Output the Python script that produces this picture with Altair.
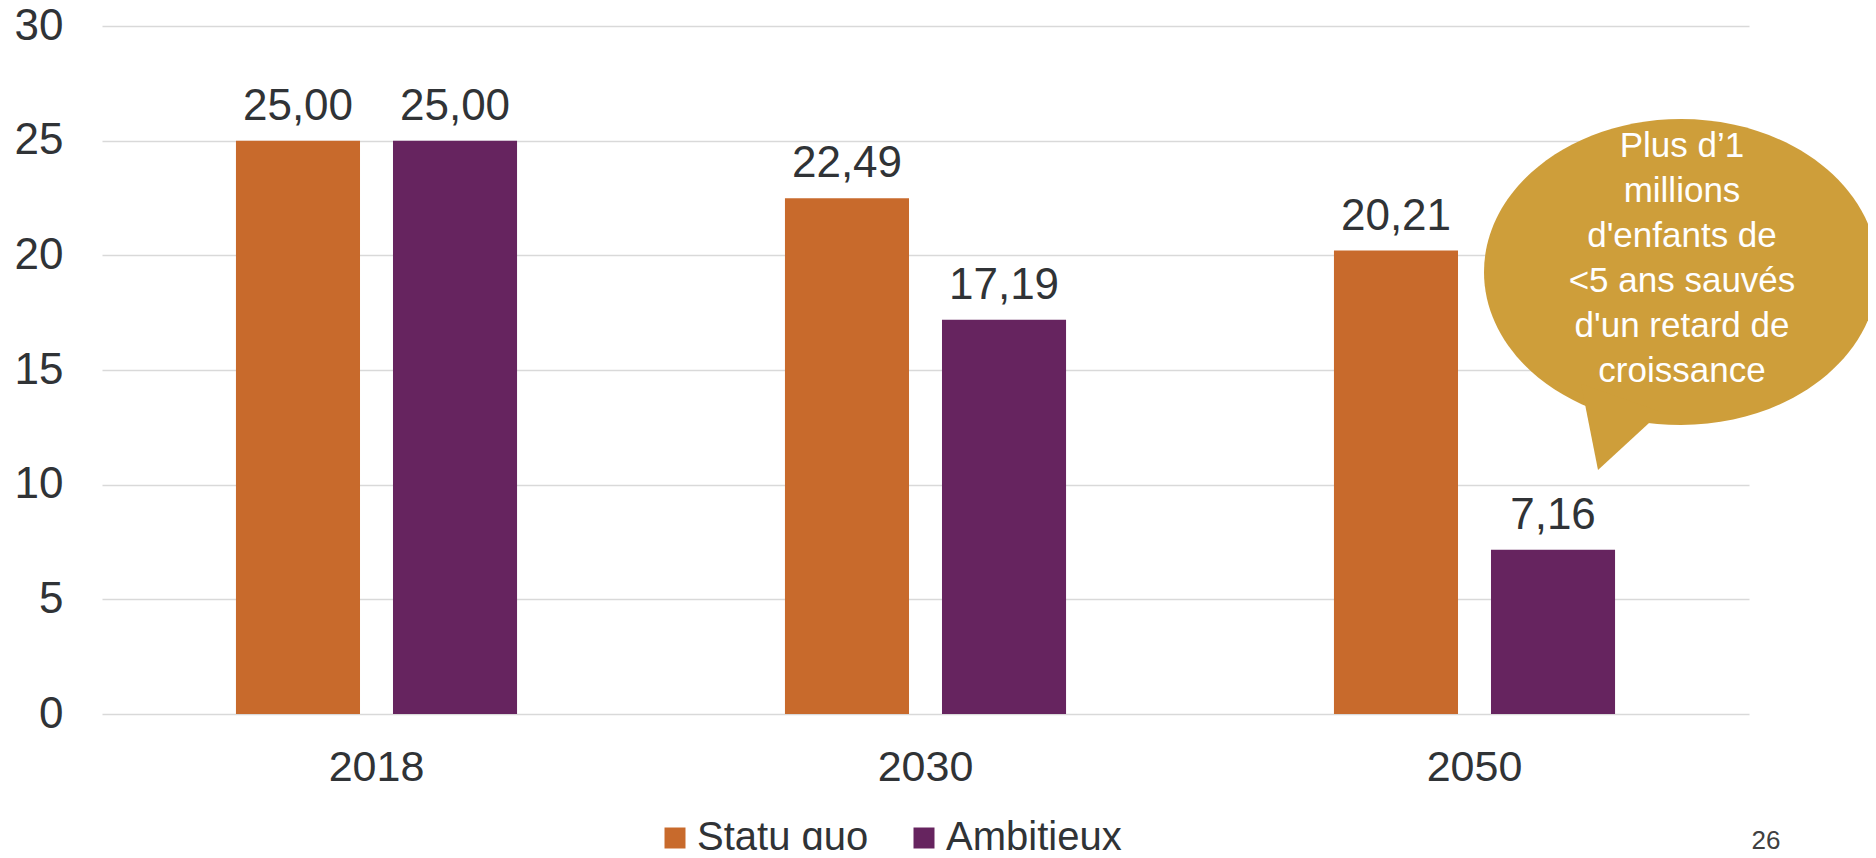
import altair as alt
import pandas as pd

# ---- data ----
years = ["2018", "2030", "2050"]
series = ["Statu quo", "Ambitieux"]
statu_quo = [25.00, 22.49, 20.21]
ambitieux = [25.00, 17.19, 7.16]
colors = ["#C86A2C", "#66245F"]
y_ticks = [0, 5, 10, 15, 20, 25, 30]
callout_lines = ["Plus d’1", "millions", "d'enfants de", "<5 ans sauvés",
                 "d'un retard de", "croissance"]
page_number = "26"

rows = []
for i, yr in enumerate(years):
    for s, vals in zip(series, [statu_quo, ambitieux]):
        rows.append({"year": yr, "series": s, "value": vals[i],
                     "label": f"{vals[i]:.2f}".replace(".", ",")})
df = pd.DataFrame(rows)
one = pd.DataFrame({"k": [0]})

W, H = 1647, 688
FONT = "Liberation Sans"
TXT = "#303336"
GOLD = "#CE9E3A"

x = alt.X("year:N", sort=years,
          scale=alt.Scale(paddingInner=0.488, paddingOuter=0.244),
          axis=alt.Axis(title=None, labelAngle=0, labelFontSize=43, labelColor=TXT,
                        labelFont=FONT, labelPadding=66, labelBaseline="alphabetic",
                        ticks=False, domain=False, grid=False))
xoff = alt.XOffset("series:N", sort=series,
                   scale=alt.Scale(paddingInner=0.21, paddingOuter=0))
y = alt.Y("value:Q", scale=alt.Scale(domain=[0, 30], nice=False),
          axis=alt.Axis(values=y_ticks, title=None, labelFontSize=44, labelColor=TXT,
                        labelFont=FONT, labelPadding=39, ticks=False, domain=False,
                        grid=True, gridColor="#D9D9D9", gridWidth=1.5))
color = alt.Color("series:N", sort=series,
                  scale=alt.Scale(domain=series, range=colors),
                  legend=alt.Legend(orient="none", legendX=553, legendY=792,
                                    direction="horizontal", title=None,
                                    symbolType="square", symbolSize=441,
                                    symbolStrokeWidth=0, symbolOpacity=1,
                                    labelFontSize=40, labelFont=FONT, labelColor=TXT,
                                    labelLimit=0, columnPadding=35, labelOffset=2))

bars = alt.Chart(df).mark_bar().encode(x=x, xOffset=xoff, y=y, color=color)
labels = alt.Chart(df).mark_text(dy=-21, baseline="alphabetic", fontSize=44,
                                 font=FONT, color=TXT).encode(
    x=alt.X("year:N", sort=years), xOffset=alt.XOffset("series:N", sort=series),
    y="value:Q", text="label:N")

ellipse = alt.Chart(one).mark_point(
    shape="M -197 0 A 197 153 0 1 1 197 0 A 197 153 0 1 1 -197 0 Z",
    size=4, filled=True, fill=GOLD, opacity=1, strokeWidth=0
).encode(x=alt.value(1579), y=alt.value(246))
tail = alt.Chart(one).mark_point(
    shape="M -100 112 L -83 198 L -20 140 Z",
    size=4, filled=True, fill=GOLD, opacity=1, strokeWidth=0
).encode(x=alt.value(1579), y=alt.value(246))
callout = alt.Chart(one).mark_text(
    align="center", baseline="alphabetic", fontSize=35, lineHeight=45,
    font=FONT, color="white"
).encode(x=alt.value(1580), y=alt.value(131), text=alt.value(callout_lines))
page = alt.Chart(one).mark_text(
    align="center", baseline="alphabetic", fontSize=26, font=FONT, color="#404040"
).encode(x=alt.value(1664), y=alt.value(823), text=alt.value(page_number))

chart = alt.layer(bars, labels, ellipse, tail, callout, page).properties(
    width=W, height=H,
    autosize=alt.AutoSizeParams(type="none"),
    padding={"left": 94, "top": 18, "right": 119, "bottom": 136},
    background="white",
).configure_view(stroke=None)

chart.save("out.html", embed_options={"renderer": "svg", "actions": False})
